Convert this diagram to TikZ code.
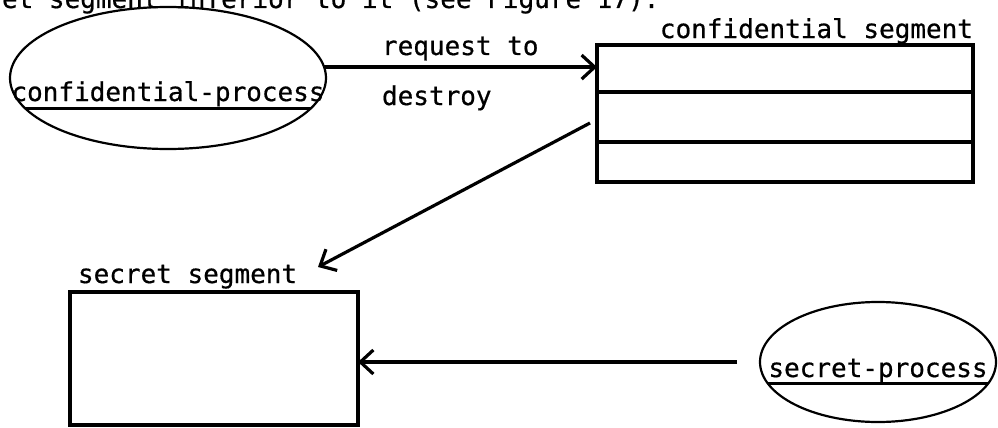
\documentclass[tikz,border=0pt]{standalone}
\usepackage{fontspec}
\newfontfamily\tw[FakeBold=0.6]{DejaVu Sans Mono}
\usetikzlibrary{shapes.geometric,arrows.meta}
\begin{document}
\begin{tikzpicture}[x=1pt,y=-1pt,
  txt/.style={font=\tw\fontsize{26}{26}\selectfont, inner sep=0pt, outer sep=0pt},
  seg/.style={draw, line width=3.2pt, rectangle, inner sep=0pt, outer sep=0pt},
  proc/.style={draw, line width=2.2pt, ellipse, inner sep=0pt, outer sep=0pt},
  conn/.style={line width=3.2pt, -{Straight Barb[length=13pt,width=24pt]}},
  chord/.style={line width=2.4pt}]
\useasboundingbox (0,0) rectangle (998,428);
% cut-off running text at the top
\node[txt, anchor=base west] (top) at (2,8) {et segment inferior to it (see Figure 17).};
% confidential process
\node[proc, minimum width=316pt, minimum height=142pt] (cp) at (168,78) {};
\node[txt, anchor=base] (cpt) at (168,101) {confidential-process};
\draw[chord] (cp.192) -- (cp.348);
% confidential segment
\node[seg, minimum width=376pt, minimum height=137pt] (cs) at (785,113.5) {};
\node[txt, anchor=base east] (cslbl) at (973,38) {confidential segment};
\draw[line width=3.2pt] (cs.west |- 0,92) -- (cs.east |- 0,92);
\draw[line width=3.2pt] (cs.west |- 0,142) -- (cs.east |- 0,142);
% request arrow
\draw[conn] (cp.4) -- (cp.4 -| cs.west);
\node[txt, anchor=base west] (req) at (382,55) {request to};
\node[txt, anchor=base west] (des) at (382,105) {destroy};
% secret segment
\node[seg, minimum width=288pt, minimum height=133pt] (ss) at (214,358.5) {};
\node[txt, anchor=base west] (sslbl) at (78,283) {secret segment};
% diagonal arrow
\coordinate (d1) at (590,123);
\coordinate (d2) at (318,267);
\draw[conn] (d1) -- (d2);
% secret process
\node[proc, minimum width=236pt, minimum height=120pt] (sp) at (878,362) {};
\node[txt, anchor=base] (spt) at (878,377) {secret-process};
\draw[chord] (sp.191) -- (sp.349);
\draw[conn, shorten <=23pt] (sp.west) -- (sp.west -| ss.east);
\end{tikzpicture}
\end{document}
